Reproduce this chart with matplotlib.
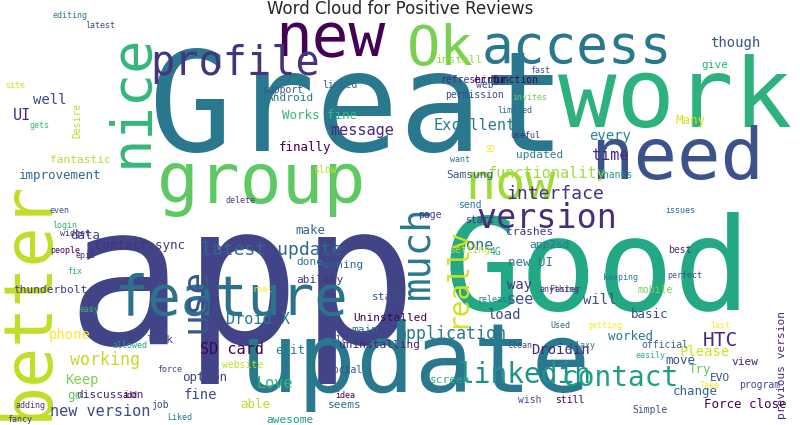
import matplotlib
matplotlib.use("Agg")
import matplotlib.pyplot as plt

words = ["Great", "app", "Good", "update", "work", "better", "nice", "new", "Ok", "access",
         "need", "group", "now", "profile", "feature", "much", "version", "use", "really",
         "linkedin", "contact", "application", "latest update", "interface", "functionality",
         "Excellent", "message", "HTC", "Droid X", "SD card", "working", "Love", "new version",
         "Keep", "Please", "previous version", "Force close", "Droidin", "thunderbolt",
         "Works fine", "UI", "phone", "time", "every", "though", "Android", "finally", "make",
         "well", "one", "see", "load", "way", "will", "edit", "basic", "worked", "move",
         "fine", "option", "able", "seems", "screen", "Uninstalled", "uninstalling", "main",
         "star", "EVO", "view", "change", "Try", "Thanks", "updated", "data", "improvement",
         "fantastic", "contact sync", "new UI", "app2sd", "crashes", "4G", "Samsung",
         "support", "Many", "give", "permission", "refreshing", "error", "slow", "linked",
         "install", "Desire", "discussion", "job", "look", "go", "ability", "done",
         "running", "website", "clear", "awesome", "social", "Simple", "program", "still",
         "wish", "setting", "page", "send", "start", "mobile", "best", "web", "invites",
         "function", "fast", "limited", "site", "editing", "latest", "epic", "widget",
         "fix", "adding", "fancy", "easy", "idea", "Liked", "easily", "official", "perfect",
         "last", "keeping", "issues", "SD", "want", "useful", "Faster", "real", "delete",
         "even", "gets", "login", "people", "allowed", "add", "force", "Take", "Used",
         "galaxy", "Clean", "release", "anything", "getting", "v2", "connection", "layout"]
sizes = [100, 140, 92, 70, 70, 48, 40, 44, 40, 38,
         52, 50, 36, 29, 40, 28, 24, 26, 20,
         20, 20, 12, 13, 13, 11,
         11, 11, 14, 11, 11, 12, 11, 11,
         10, 10, 8, 9, 10, 8,
         9, 11, 10, 11, 10, 10, 8, 9, 9,
         10, 11, 11, 10, 10, 10, 9, 9, 9, 9,
         10, 9, 9, 8, 8, 8, 8, 8,
         8, 8, 8, 9, 9, 7, 8, 9, 9,
         8, 9, 9, 8, 8, 7, 8,
         7, 9, 8, 7, 7, 8, 7, 7,
         8, 7, 8, 7, 8, 9, 8, 8,
         8, 7, 7, 8, 7, 7, 7, 7,
         7, 7, 7, 7, 7, 7, 7, 7, 6,
         7, 6, 6, 6, 6, 6, 6, 6,
         6, 6, 6, 6, 6, 6, 6, 7, 6,
         6, 6, 6, 6, 6, 6, 6, 6, 6,
         6, 6, 6, 6, 6, 6, 6, 6, 6,
         6, 6, 6, 6, 6, 6, 6, 6]
colors = ["#2a788e", "#414487", "#22a884", "#2a788e", "#2db27d", "#bddf26", "#35b779", "#440154",
          "#7ad151", "#2a788e", "#3b528b", "#5ec962", "#a0da39", "#46337e", "#2c728e", "#2a788e",
          "#472d7b", "#39568c", "#d2e21b", "#21918c", "#1f9e89", "#2a788e", "#31688e", "#46337e",
          "#a0da39", "#2a788e", "#482878", "#482878", "#2a788e", "#440154", "#bddf26", "#35b779",
          "#3e4a89", "#7ad151", "#d2e21b", "#482878", "#440154", "#482878", "#443983", "#35b779",
          "#472d7b", "#fde725", "#482878", "#26828e", "#3b528b", "#2a788e", "#440154", "#31688e",
          "#414487", "#2c728e", "#39568c", "#3e4a89", "#443983", "#3b528b", "#25848e", "#3e4a89",
          "#2a788e", "#3b528b", "#3e4a89", "#414487", "#b5de2b", "#31688e", "#29af7f", "#440154",
          "#482475", "#31688e", "#3b528b", "#3b528b", "#482475", "#31688e", "#5ec962", "#21918c",
          "#26828e", "#3e4a89", "#31688e", "#b5de2b", "#46337e", "#2a788e", "#2a788e", "#46337e",
          "#1fa188", "#38588c", "#3b528b", "#d8e219", "#2db27d", "#3e4a89", "#482878", "#440154",
          "#bddf26", "#31688e", "#9bd93c", "#b5de2b", "#482475", "#3e4a89", "#3e4a89", "#5ec962",
          "#46337e", "#2a788e", "#31688e", "#c2df23", "#3b528b", "#1f9e89", "#3e4a89", "#3b528b",
          "#3e4a89", "#440154", "#3b528b", "#bddf26", "#443983", "#2a788e", "#46337e", "#7ad151",
          "#482878", "#3b528b", "#6ccd5a", "#440154", "#3e4a89", "#31688e", "#d2e21b", "#2a788e",
          "#3e4a89", "#46337e", "#482878", "#2db27d", "#443983", "#46337e", "#35b779", "#440154",
          "#2a788e", "#2db27d", "#31688e", "#3b528b", "#fde725", "#2a788e", "#31688e", "#fde725",
          "#2a788e", "#482878", "#3e4a89", "#fde725", "#443983", "#3b528b", "#35b779", "#2db27d",
          "#440154", "#1f9e89", "#440154", "#3e4a89", "#fde725", "#31688e", "#2a788e", "#3e4a89",
          "#2a788e", "#46337e", "#fde725", "#5ec962", "#440154", "#3b528b", "#3e4a89", "#482878"]

# layout of the cloud: centre (x, y in pixels from top-left) and rotation
layout = [(357, 112, 0), (242, 290, 0), (597, 275, 0), (415, 365, 0), (675, 100, 0),
          (28, 300, 90), (132, 100, 90), (330, 40, 0), (440, 50, 0), (577, 48, 0),
          (677, 160, 0), (262, 183, 0), (510, 185, 0), (235, 64, 0), (232, 300, 0),
          (417, 252, 90), (547, 218, 0), (195, 300, 90), (457, 278, 90),
          (525, 375, 0), (620, 378, 0), (452, 334, 0), (272, 250, 0), (555, 194, 0),
          (547, 173, 0), (475, 125, 0), (362, 130, 0), (720, 340, 0), (258, 320, 0),
          (232, 350, 0), (105, 360, 0), (275, 383, 0), (100, 412, 0),
          (82, 380, 0), (705, 352, 0), (782, 365, 90), (745, 405, 0), (560, 350, 0),
          (50, 290, 0), (320, 115, 0), (22, 115, 0), (70, 335, 0), (610, 156, 0),
          (610, 136, 0), (735, 43, 0), (290, 98, 0), (305, 147, 0), (310, 230, 0),
          (50, 100, 0), (480, 245, 0), (520, 300, 0), (505, 315, 0), (520, 285, 0),
          (600, 300, 0), (290, 350, 0), (650, 315, 0), (630, 336, 0), (680, 360, 0),
          (200, 395, 0), (205, 378, 0), (255, 405, 0), (345, 405, 0), (450, 380, 0),
          (390, 318, 0), (380, 345, 0), (365, 330, 0), (385, 297, 0), (720, 378, 0),
          (745, 362, 0), (695, 392, 0), (700, 370, 0), (615, 175, 0), (540, 155, 0),
          (85, 235, 0), (60, 175, 0), (80, 160, 0), (140, 245, 0), (530, 262, 0),
          (550, 245, 0), (530, 232, 0), (495, 252, 0), (470, 175, 0), (283, 90, 0),
          (690, 120, 0), (715, 65, 0), (475, 95, 0), (470, 80, 0), (490, 80, 0),
          (325, 170, 0), (340, 85, 0), (460, 60, 0), (77, 120, 90), (110, 395, 0),
          (160, 405, 0), (160, 340, 0), (75, 395, 0), (320, 280, 0), (310, 262, 0),
          (340, 265, 0), (243, 365, 0), (345, 340, 0), (290, 420, 0), (345, 370, 0),
          (650, 410, 0), (760, 385, 0), (570, 400, 0), (530, 400, 0), (470, 250, 0),
          (430, 215, 0), (470, 205, 0), (480, 220, 0), (655, 290, 0), (680, 250, 0),
          (485, 85, 0), (530, 97, 0), (515, 80, 0), (540, 70, 0), (515, 110, 0),
          (15, 85, 0), (70, 15, 0), (100, 25, 0), (85, 255, 0), (75, 233, 0),
          (75, 272, 0), (30, 405, 0), (20, 420, 0), (90, 310, 0), (345, 395, 0),
          (180, 418, 0), (650, 355, 0), (665, 345, 0), (685, 275, 0), (720, 325, 0),
          (620, 278, 0), (680, 210, 0), (490, 150, 0), (460, 160, 0), (525, 135, 0),
          (565, 290, 0), (262, 290, 0), (240, 200, 0), (60, 210, 0), (40, 125, 0),
          (65, 225, 0), (65, 250, 0), (130, 345, 0), (130, 395, 0), (170, 370, 0),
          (710, 385, 0), (560, 325, 0), (580, 345, 0), (520, 345, 0), (495, 300, 0),
          (560, 290, 0), (605, 325, 0)]

fig = plt.figure(figsize=(8, 4.25), dpi=100)
fig.patch.set_facecolor("white")
ax = fig.add_axes([0, 0, 1, 1])
ax.set_xlim(0, 800)
ax.set_ylim(425, 0)
ax.axis("off")

for w, s, c, (x, y, r) in zip(words, sizes, colors, layout):
    ax.text(x, y, w, fontsize=s, color=c, rotation=r, ha="center", va="center",
            family="DejaVu Sans Mono")

ax.text(400, 9, "Word Cloud for Positive Reviews", fontsize=12, ha="center", va="center",
        color="#262626", family="DejaVu Sans",
        bbox=dict(facecolor="white", edgecolor="none", pad=1))

fig.savefig("out.png", dpi=100, facecolor="white")
